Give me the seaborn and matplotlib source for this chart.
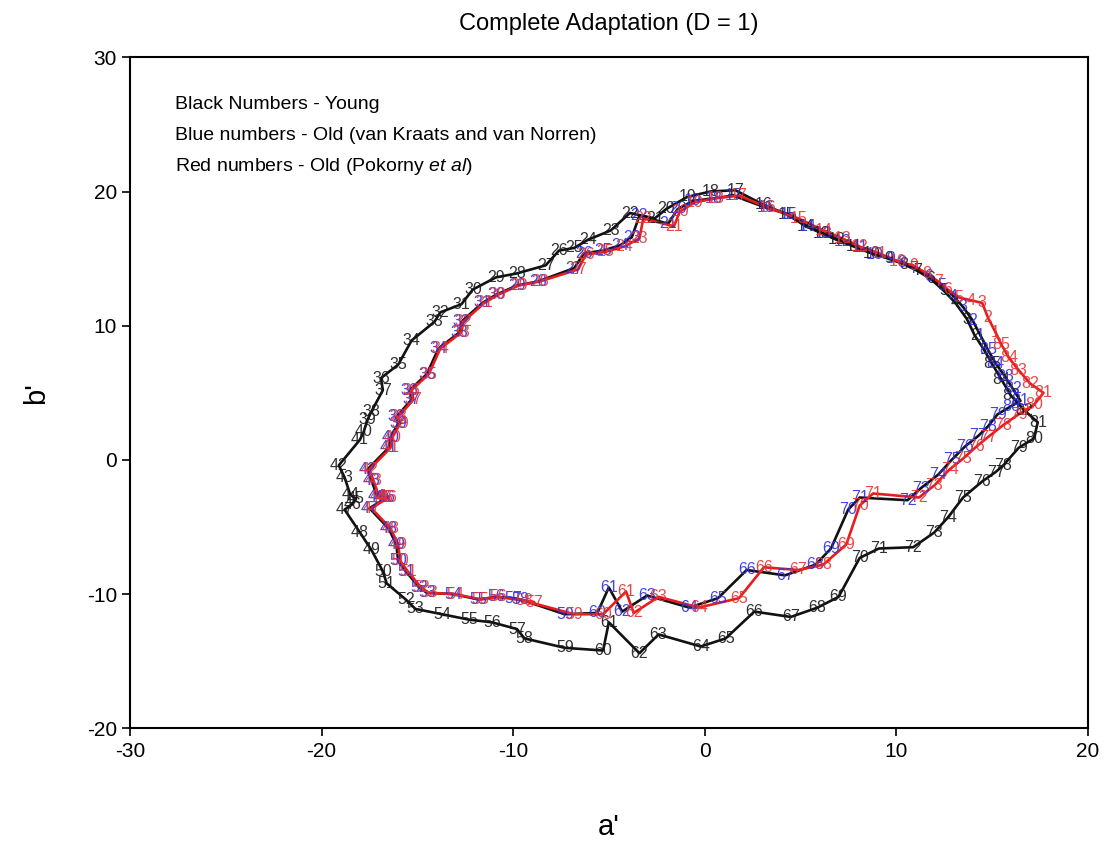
import numpy as np
import pandas as pd
import matplotlib
matplotlib.use("Agg")
import matplotlib.pyplot as plt
import seaborn as sns

# Hue-point index (1..85) for every series
idx = list(range(1, 86))

# Young observers
young_a = [14.6, 14.1, 13.7, 13.1, 12.5, 11.8, 11.1, 10.4, 9.6, 8.7,
           7.8, 6.9, 6.1, 5.3, 4.3, 3.1, 1.6, 0.3, -0.9, -2.0,
           -2.6, -3.9, -4.9, -6.1, -6.8, -7.6, -8.3, -9.8, -10.9, -12.1,
           -12.7, -13.8, -14.1, -15.3, -16.0, -16.9, -16.8, -17.4, -17.6, -17.8,
           -18.0, -19.1, -18.8, -18.5, -18.2, -18.4, -18.8, -18.0, -17.4, -16.8,
           -16.6, -15.6, -15.1, -13.7, -12.3, -11.1, -9.8, -9.4, -7.3, -5.3,
           -5.0, -3.4, -2.4, -0.2, 1.1, 2.6, 4.5, 5.9, 7.0, 8.1,
           9.1, 10.9, 12.0, 12.7, 13.5, 14.5, 15.2, 15.6, 16.4, 17.2,
           17.4, 16.7, 16.0, 15.5, 15.0]
young_b = [8.2, 9.3, 10.5, 11.7, 12.6, 13.5, 14.1, 14.6, 15.0, 15.4,
           15.9, 16.4, 16.9, 17.4, 18.3, 19.0, 20.1, 20.0, 19.6, 18.7,
           18.0, 18.4, 17.1, 16.4, 15.8, 15.6, 14.5, 13.9, 13.6, 12.7,
           11.6, 11.0, 10.3, 8.9, 7.1, 6.1, 5.2, 3.6, 3.0, 2.1,
           1.5, -0.4, -1.3, -2.6, -2.9, -3.3, -3.7, -5.4, -6.7, -8.3,
           -9.2, -10.4, -11.1, -11.5, -11.9, -12.1, -12.6, -13.3, -14.0, -14.2,
           -12.1, -14.4, -13.0, -13.9, -13.3, -11.3, -11.7, -11.0, -10.2, -7.3,
           -6.6, -6.5, -5.4, -4.3, -2.8, -1.6, -0.9, -0.4, 0.9, 1.6,
           2.8, 3.7, 4.8, 6.0, 7.2]

# Old observers, van Kraats and van Norren lens model
vk_a = [14.4, 14.0, 13.5, 13.0, 12.4, 11.7, 10.9, 10.3, 9.7, 8.9,
        8.1, 7.2, 6.2, 5.4, 4.4, 3.2, 1.5, 0.5, -0.6, -1.4,
        -1.9, -3.4, -3.8, -4.4, -5.3, -6.3, -6.8, -8.7, -9.8, -10.9,
        -11.6, -12.7, -12.8, -13.9, -14.5, -15.4, -15.3, -16.1, -16.0, -16.4,
        -16.5, -17.6, -17.4, -17.1, -16.8, -16.6, -17.5, -16.5, -16.1, -16.0,
        -15.6, -14.9, -14.5, -13.1, -11.8, -10.9, -10.0, -9.6, -7.3, -5.6,
        -5.0, -4.3, -3.0, -0.8, 0.7, 2.2, 4.2, 5.8, 6.6, 7.5,
        8.1, 10.6, 11.3, 12.2, 12.9, 13.6, 14.3, 14.8, 15.3, 16.0,
        16.5, 16.1, 15.7, 15.2, 14.8]
vk_b = [9.3, 10.4, 11.4, 12.2, 13.0, 13.7, 14.3, 14.7, 15.0, 15.3,
        15.8, 16.3, 16.9, 17.4, 18.3, 18.8, 19.7, 19.5, 19.3, 18.7,
        17.6, 18.2, 16.6, 16.0, 15.6, 15.4, 14.3, 13.3, 13.0, 12.3,
        11.7, 10.3, 9.5, 8.3, 6.4, 5.2, 4.5, 3.2, 2.7, 1.7,
        0.9, -0.7, -1.5, -2.7, -2.8, -2.8, -3.6, -5.1, -6.3, -7.5,
        -8.3, -9.5, -9.9, -10.0, -10.4, -10.2, -10.3, -10.4, -11.5, -11.4,
        -9.5, -11.3, -10.1, -11.0, -10.3, -8.2, -8.6, -7.8, -6.6, -3.7,
        -2.8, -3.0, -2.1, -1.1, 0.0, 1.0, 1.8, 2.5, 3.4, 4.0,
        4.4, 5.3, 6.2, 7.2, 8.2]

# Old observers, Pokorny et al lens model
pk_a = [15.2, 14.8, 14.5, 13.9, 13.3, 12.7, 12.2, 11.6, 10.9, 10.1,
        9.1, 8.1, 7.2, 6.2, 4.9, 3.3, 1.8, 0.6, -0.5, -1.3,
        -1.6, -3.2, -3.4, -4.2, -5.2, -6.2, -6.6, -8.6, -9.7, -10.8,
        -11.5, -12.6, -12.7, -13.8, -14.4, -15.3, -15.2, -16.0, -15.9, -16.3,
        -16.4, -17.5, -17.3, -17.0, -16.7, -16.5, -17.4, -16.4, -16.0, -15.9,
        -15.5, -14.8, -14.4, -13.0, -11.7, -10.8, -8.9, -9.4, -6.8, -5.3,
        -4.1, -3.7, -2.4, -0.3, 1.8, 3.1, 4.9, 6.2, 7.4, 8.1,
        8.8, 11.2, 12.0, 12.8, 13.5, 14.2, 14.8, 15.6, 16.4, 17.2,
        17.7, 17.0, 16.4, 15.9, 15.5]
pk_b = [9.5, 10.6, 11.7, 11.9, 12.1, 12.7, 13.3, 13.9, 14.5, 14.8,
        15.4, 15.9, 16.5, 17.1, 18.0, 18.8, 19.7, 19.5, 19.2, 18.5,
        17.4, 18.0, 16.5, 15.9, 15.5, 15.3, 14.2, 13.3, 13.0, 12.3,
        11.7, 10.3, 9.5, 8.3, 6.4, 5.2, 4.5, 3.2, 2.7, 1.7,
        0.9, -0.7, -1.5, -2.7, -2.8, -2.8, -3.6, -5.1, -6.3, -7.5,
        -8.3, -9.5, -9.9, -10.0, -10.4, -10.2, -10.6, -10.5, -11.5, -11.5,
        -9.8, -11.4, -10.2, -11.0, -10.3, -8.0, -8.2, -7.8, -6.3, -3.4,
        -2.5, -2.8, -1.9, -0.7, 0.1, 1.0, 1.7, 2.6, 3.4, 4.1,
        5.0, 5.7, 6.7, 7.6, 8.6]

legend_lines = ["Black Numbers - Young",
                "Blue numbers - Old (van Kraats and van Norren)",
                r"Red numbers - Old (Pokorny $\mathit{et\ al}$)"]

series = [
    ("Young", young_a, young_b, "#111111", "#1a1a1a"),
    ("Old vK", vk_a, vk_b, "#111111", "#2f2fe0"),
    ("Old Pokorny", pk_a, pk_b, "#e81c1c", "#e53535"),
]

sns.set_theme(style="ticks")
plt.rcParams["font.family"] = ["Liberation Sans", "DejaVu Sans"]
plt.rcParams["mathtext.fontset"] = "custom"
plt.rcParams["mathtext.it"] = "Liberation Sans:italic"
plt.rcParams["mathtext.rm"] = "Liberation Sans"
plt.rcParams["axes.unicode_minus"] = False
plt.rcParams["text.color"] = "black"
plt.rcParams["axes.labelcolor"] = "black"

fig = plt.figure(figsize=(11.12, 8.43), dpi=100)
ax = fig.add_axes([0.117, 0.136, 0.861, 0.796])

frames = []
for name, a, b, lc, tc in series:
    # close each contour by returning to the first hue point
    frames.append(pd.DataFrame({"a": a + a[:1], "b": b + b[:1],
                                "series": name}))
df = pd.concat(frames, ignore_index=True)

for name, a, b, lc, tc in series:
    sns.lineplot(data=df[df["series"] == name], x="a", y="b", sort=False,
                 estimator=None, color=lc, linewidth=1.9, ax=ax, legend=False)

for name, a, b, lc, tc in series:
    for n, x, y in zip(idx, a, b):
        ax.text(x, y, str(n), color=tc, fontsize=11.5, ha="center",
                va="center", alpha=0.9)

ax.set_xlim(-30, 20)
ax.set_ylim(-20, 30)
ax.set_xticks(np.arange(-30, 21, 10))
ax.set_yticks(np.arange(-20, 31, 10))
ax.tick_params(axis="both", which="major", labelsize=15, length=6,
               width=1.2, direction="out", colors="black")
for s in ax.spines.values():
    s.set_visible(True)
    s.set_linewidth(1.5)
    s.set_color("black")

ax.set_xlabel("a'", fontsize=21, labelpad=38)
ax.set_ylabel("b'", fontsize=21, labelpad=26)
ax.set_title("Complete Adaptation (D = 1)", fontsize=17, pad=20)

for i, line in enumerate(legend_lines):
    ax.text(0.047, 0.929 - i * 0.046, line, transform=ax.transAxes,
            fontsize=14, ha="left", va="center", color="black")

fig.savefig("out.png", dpi=100, facecolor="white")
